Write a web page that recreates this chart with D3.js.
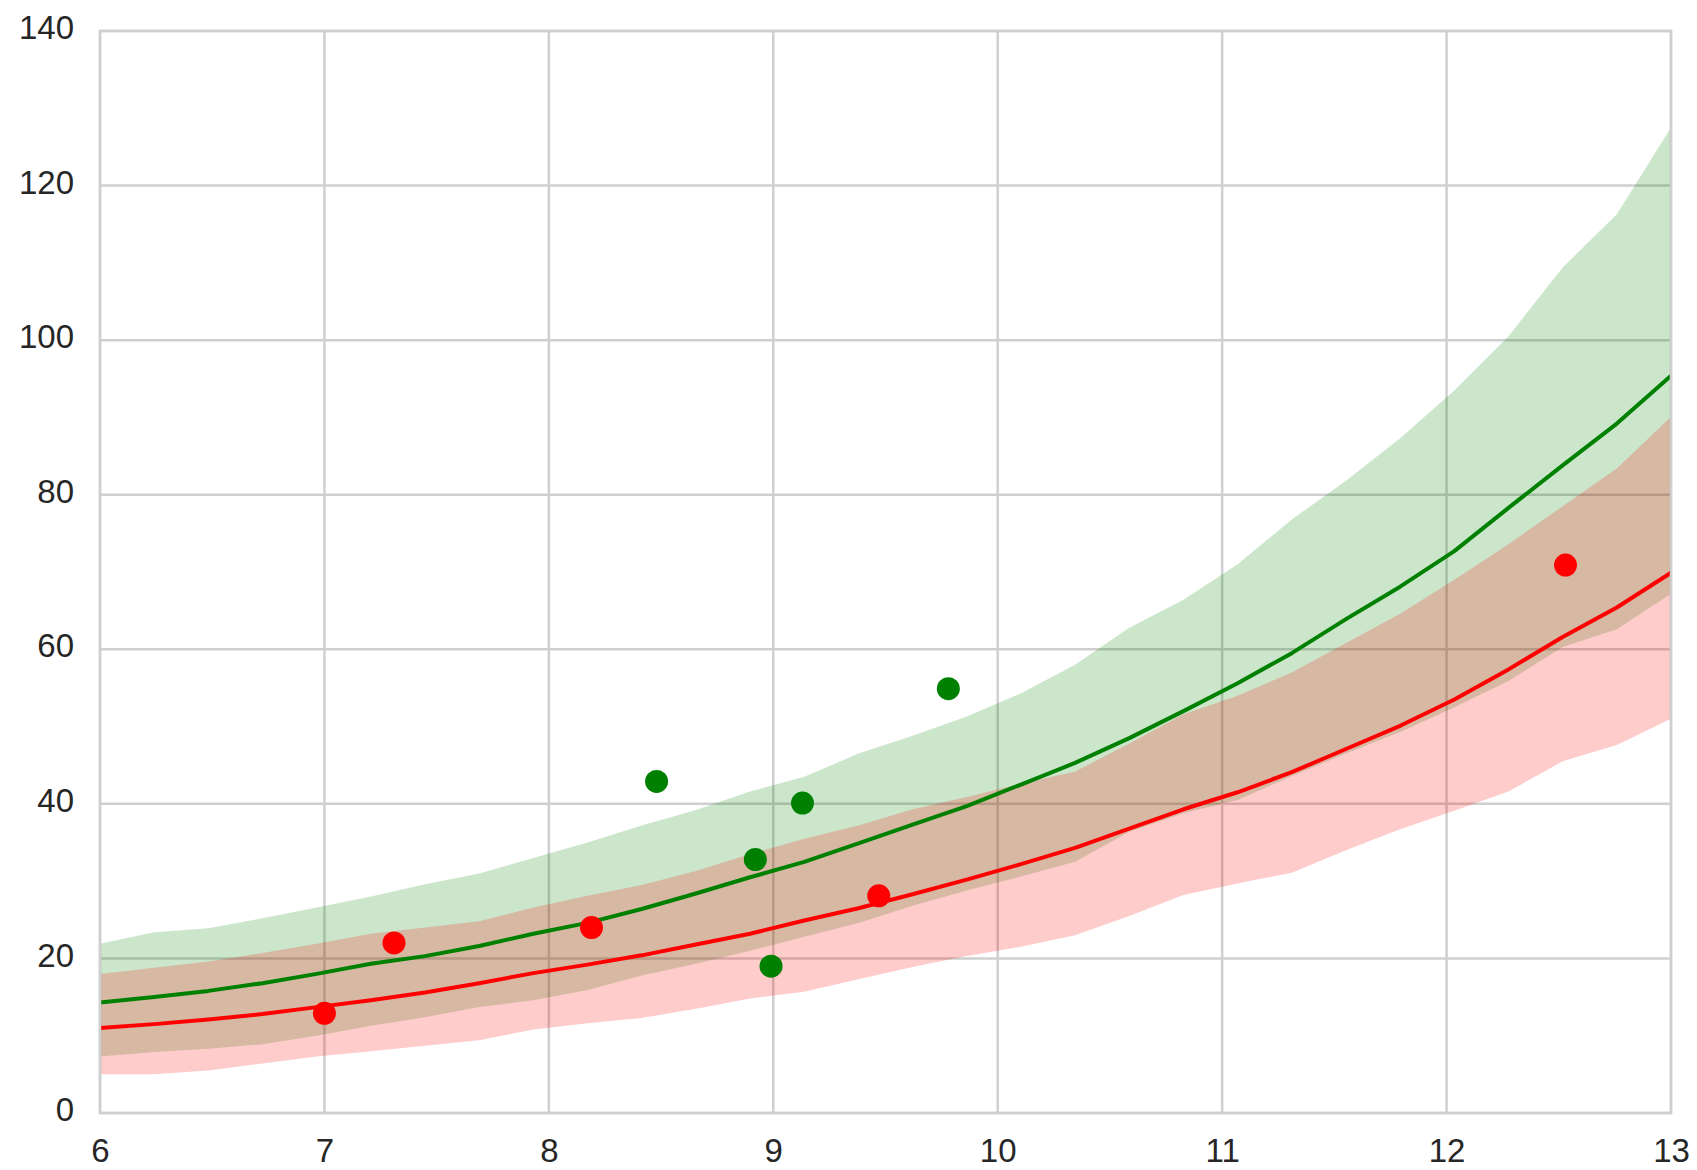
<!DOCTYPE html>
<html>
<head>
<meta charset="utf-8">
<script src="https://cdn.jsdelivr.net/npm/d3@7"></script>
<style>
  html, body { margin: 0; padding: 0; background: #ffffff; }
  svg text { font-family: "Liberation Sans", Arial, sans-serif; }
</style>
</head>
<body>
<svg id="chart" width="1697" height="1170"></svg>
<script>
// Prediction grid: 30 evenly spaced x values from 6 to 13
const gridX = d3.range(30).map(k => 6 + k * 7 / 29);

// Green model: mean curve and interval bounds
const greenMean  = [14.3, 15.0, 15.8, 16.8, 18.0, 19.3, 20.3, 21.6, 23.2, 24.6, 26.4, 28.4, 30.5, 32.5, 34.9,
                    37.3, 39.7, 42.5, 45.3, 48.5, 52.0, 55.6, 59.5, 63.9, 68.1, 72.7, 78.3, 83.8, 89.2, 95.4];
const greenUpper = [21.9, 23.4, 23.9, 25.2, 26.6, 28.0, 29.6, 31.0, 33.0, 35.0, 37.2, 39.2, 41.6, 43.5, 46.5,
                    48.8, 51.3, 54.3, 58.0, 62.8, 66.4, 71.0, 76.8, 81.8, 87.3, 93.5, 100.5, 109.4, 116.3, 127.5];
const greenLower = [7.3, 7.9, 8.3, 8.9, 10.0, 11.3, 12.4, 13.7, 14.6, 15.9, 17.8, 19.3, 21.0, 22.8, 24.6,
                    26.8, 28.8, 30.6, 32.5, 36.4, 38.8, 40.5, 43.6, 46.5, 49.3, 52.5, 55.9, 60.3, 62.6, 67.2];

// Red model: mean curve and interval bounds
const redMean  = [11.0, 11.5, 12.1, 12.8, 13.7, 14.6, 15.6, 16.8, 18.1, 19.2, 20.4, 21.8, 23.2, 24.9, 26.5,
                  28.3, 30.2, 32.2, 34.3, 36.8, 39.3, 41.5, 44.1, 47.1, 50.1, 53.5, 57.4, 61.6, 65.4, 69.9];
const redUpper = [18.0, 18.8, 19.6, 20.7, 21.9, 23.2, 24.0, 24.8, 26.6, 28.1, 29.5, 31.3, 33.5, 35.5, 37.2,
                  39.3, 40.9, 42.6, 44.2, 47.8, 51.6, 54.0, 57.0, 60.8, 64.6, 69.0, 73.6, 78.5, 83.4, 90.1];
const redLower = [5.0, 5.0, 5.5, 6.4, 7.3, 8.0, 8.7, 9.4, 10.8, 11.6, 12.3, 13.5, 14.8, 15.7, 17.3,
                  18.9, 20.3, 21.5, 23.0, 25.5, 28.2, 29.7, 31.1, 34.0, 36.7, 39.1, 41.6, 45.5, 47.6, 51.0];

// Observed points
const greenPtsX = [8.48, 8.92, 8.99, 9.13, 9.78];
const greenPtsY = [42.9, 32.8, 19.0, 40.1, 54.9];
const redPtsX = [7.00, 7.31, 8.19, 9.47, 12.53];
const redPtsY = [12.9, 22.0, 24.0, 28.1, 70.9];

// Axis ticks
const xTicks = [6, 7, 8, 9, 10, 11, 12, 13];
const yTicks = [0, 20, 40, 60, 80, 100, 120, 140];

const svg = d3.select("#chart");
const plot = { left: 100, right: 1671, top: 31, bottom: 1113 };

const x = d3.scaleLinear().domain([6, 13]).range([plot.left, plot.right]);
const y = d3.scaleLinear().domain([0, 140]).range([plot.bottom, plot.top]);

const gridColor = "#cfcfcf";

// Grid lines
svg.append("g").selectAll("line").data(xTicks).join("line")
  .attr("x1", d => x(d)).attr("x2", d => x(d))
  .attr("y1", plot.top).attr("y2", plot.bottom)
  .attr("stroke", gridColor).attr("stroke-width", 2.5);
svg.append("g").selectAll("line").data(yTicks).join("line")
  .attr("x1", plot.left).attr("x2", plot.right)
  .attr("y1", d => y(d)).attr("y2", d => y(d))
  .attr("stroke", gridColor).attr("stroke-width", 2.5);

// Interval bands
const band = (lo, hi) => d3.area()
  .x((d, i) => x(gridX[i]))
  .y0((d, i) => y(lo[i]))
  .y1((d, i) => y(hi[i]));

svg.append("path").datum(gridX)
  .attr("d", band(greenLower, greenUpper))
  .attr("fill", "#008000").attr("fill-opacity", 0.2);
svg.append("path").datum(gridX)
  .attr("d", band(redLower, redUpper))
  .attr("fill", "#ff0000").attr("fill-opacity", 0.2);

// Mean curves
const curve = vals => d3.line()
  .x((d, i) => x(gridX[i]))
  .y((d, i) => y(vals[i]));

svg.append("path").datum(gridX)
  .attr("d", curve(greenMean))
  .attr("fill", "none").attr("stroke", "#008000").attr("stroke-width", 4)
  .attr("stroke-linejoin", "round");
svg.append("path").datum(gridX)
  .attr("d", curve(redMean))
  .attr("fill", "none").attr("stroke", "#ff0000").attr("stroke-width", 4)
  .attr("stroke-linejoin", "round");

// Observed points
svg.append("g").selectAll("circle").data(greenPtsX).join("circle")
  .attr("cx", d => x(d)).attr("cy", (d, i) => y(greenPtsY[i]))
  .attr("r", 11.5).attr("fill", "#008000");
svg.append("g").selectAll("circle").data(redPtsX).join("circle")
  .attr("cx", d => x(d)).attr("cy", (d, i) => y(redPtsY[i]))
  .attr("r", 11.5).attr("fill", "#ff0000");

// Frame
svg.append("rect")
  .attr("x", plot.left).attr("y", plot.top)
  .attr("width", plot.right - plot.left).attr("height", plot.bottom - plot.top)
  .attr("fill", "none").attr("stroke", gridColor).attr("stroke-width", 2.5);

// Axes (labels only; tick marks and domain hidden)
const xAxis = svg.append("g")
  .attr("transform", `translate(0,${plot.bottom})`)
  .call(d3.axisBottom(x).tickValues(xTicks).tickSize(0).tickPadding(26).tickFormat(d3.format("d")));
const yAxis = svg.append("g")
  .attr("transform", `translate(${plot.left},0)`)
  .call(d3.axisLeft(y).tickValues(yTicks).tickSize(0).tickPadding(26).tickFormat(d3.format("d")));

[xAxis, yAxis].forEach(g => {
  g.select(".domain").remove();
  g.selectAll("text")
    .attr("fill", "#262626")
    .style("font-size", "33px")
    .style("font-family", "'Liberation Sans', Arial, sans-serif");
});
yAxis.selectAll("text").attr("dy", "0.23em");
</script>
</body>
</html>
